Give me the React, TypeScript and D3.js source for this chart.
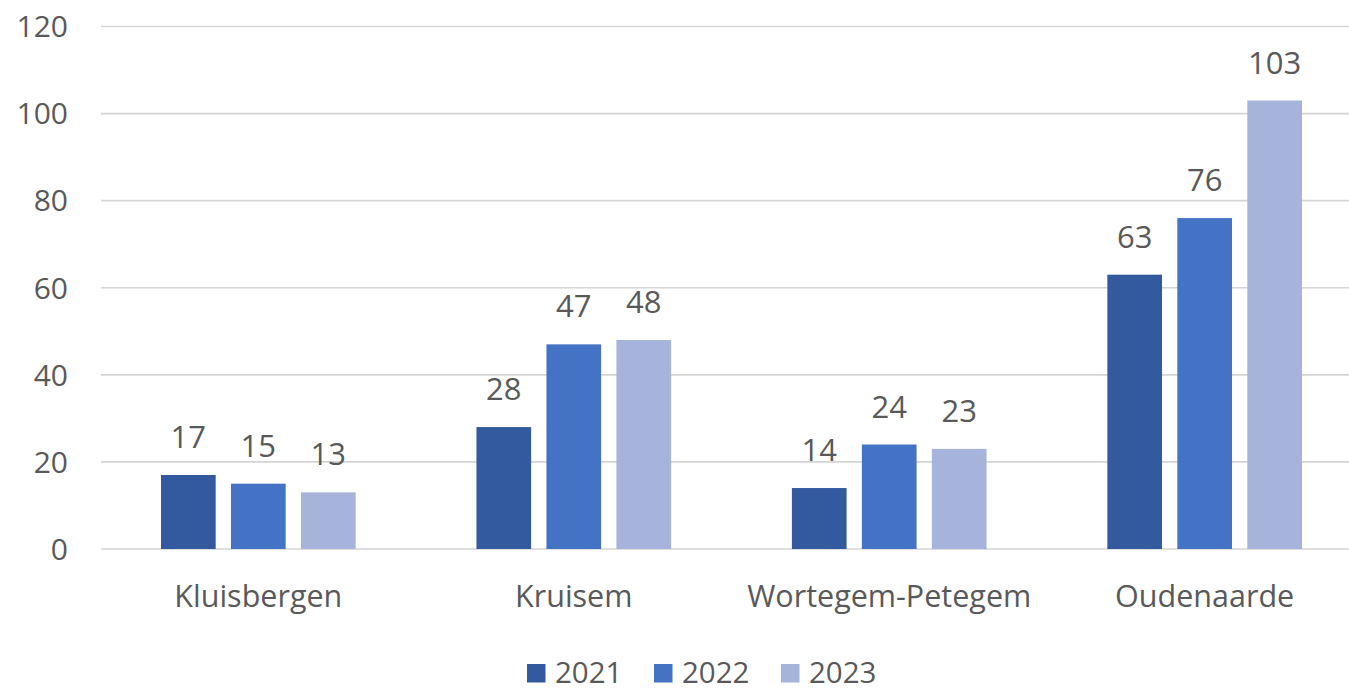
import React from "react";
import * as d3 from "d3";

const categories = ["Kluisbergen", "Kruisem", "Wortegem-Petegem", "Oudenaarde"];
const years = ["2021", "2022", "2023"];
const values2021 = [17, 28, 14, 63];
const values2022 = [15, 47, 24, 76];
const values2023 = [13, 48, 23, 103];
const yTicks = [0, 20, 40, 60, 80, 100, 120];
const colors = ["#335A9E", "#4472C4", "#A6B4DB"];

const seriesValues = [values2021, values2022, values2023];

const W = 1349;
const H = 690;
const FONT = "'Open Sans', sans-serif";
const TEXT = "#595959";

export default function App() {
  const y = d3.scaleLinear().domain([0, 120]).range([549, 26.5]);
  const x0 = d3.scaleBand<string>().domain(categories).range([100.6, 1362.4]).padding(0);
  const x1 = d3
    .scaleBand<string>()
    .domain(years)
    .range([0, x0.bandwidth()])
    .paddingInner(0.2186)
    .paddingOuter(0.863);

  return (
    <svg
      width={W}
      height={H}
      style={{ position: "absolute", left: 0, top: 0, background: "#fff" }}
      fontFamily={FONT}
    >
      <rect x={0} y={0} width={W} height={H} fill="#fff" />
      {yTicks.map((t) => (
        <g key={t}>
          <line x1={101} x2={1349} y1={y(t)} y2={y(t)} stroke="#D4D4D4" strokeWidth={1.7} />
          <text x={68} y={y(t)} dy="0.36em" textAnchor="end" fontSize={30} fill={TEXT}>
            {t}
          </text>
        </g>
      ))}
      {categories.map((c, ci) => (
        <g key={c} transform={`translate(${x0(c)},0)`}>
          {years.map((yr, si) => {
            const v = seriesValues[si][ci];
            const bx = x1(yr) as number;
            return (
              <g key={yr}>
                <rect
                  x={bx}
                  y={y(v)}
                  width={x1.bandwidth()}
                  height={y(0) - y(v)}
                  fill={colors[si]}
                />
                <text
                  x={bx + x1.bandwidth() / 2}
                  y={y(v) - 27}
                  textAnchor="middle"
                  fontSize={31}
                  fill={TEXT}
                >
                  {v}
                </text>
              </g>
            );
          })}
          <text
            x={x0.bandwidth() / 2}
            y={606.5}
            textAnchor="middle"
            fontSize={30.5}
            fill={TEXT}
          >
            {c}
          </text>
        </g>
      ))}
      {years.map((yr, i) => {
        const lx = 527 + i * 127;
        return (
          <g key={yr}>
            <rect x={lx} y={664} width={18.5} height={18.5} fill={colors[i]} />
            <text x={lx + 28} y={682.5} fontSize={29.5} fill={TEXT}>
              {yr}
            </text>
          </g>
        );
      })}
    </svg>
  );
}
